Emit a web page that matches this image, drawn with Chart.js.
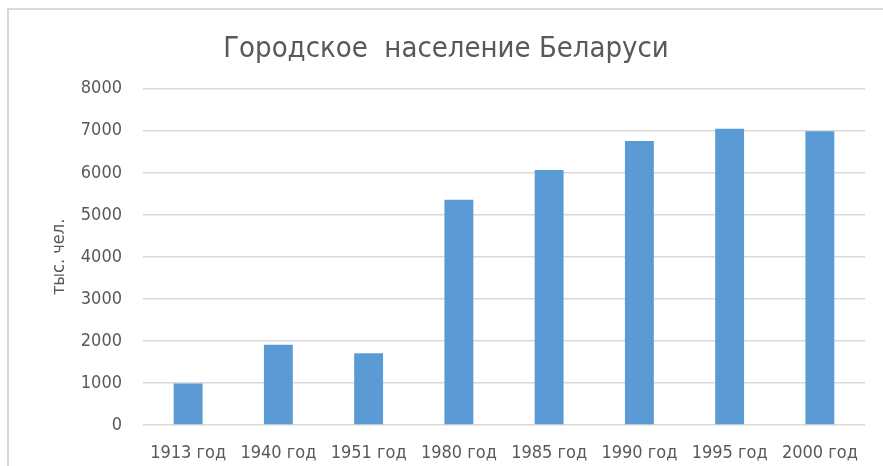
<meta charset="UTF-8">
<html>
<head>
<title>Городское население Беларуси</title>
<script src="https://cdn.jsdelivr.net/npm/chart.js@4/dist/chart.umd.min.js"></script>
<style>
    html, body { margin: 0; padding: 0; width: 883px; height: 466px; overflow: hidden; background: #ffffff; }
    .frame {
        position: absolute;
        left: 7px;
        top: 8px;
        width: 900px;
        height: 480px;
        border-top: 2px solid #d9d9d9;
        border-left: 2px solid #d9d9d9;
    }
    canvas { display: block; }
</style>
<script>
    // data
    var years = ['1913 год', '1940 год', '1951 год', '1980 год', '1985 год', '1990 год', '1995 год', '2000 год'];
    var urbanPop = [990, 1910, 1710, 5360, 6070, 6760, 7050, 6990];
    var yTicks = [0, 1000, 2000, 3000, 4000, 5000, 6000, 7000, 8000];

    var chartTitle = 'Городское  население Беларуси';
    var yTitle = 'тыс. чел.';
</script>
</head>
<body>
<div class="frame">
    <canvas id="chartCanvas" width="874" height="456"></canvas>
</div>
<script>
    var font = '"DejaVu Sans Condensed", "Liberation Sans Narrow", sans-serif';
    var grey = '#595959';

    new Chart(document.getElementById('chartCanvas'), {
        type: 'bar',
        data: {
            labels: years,
            datasets: [{
                data: urbanPop,
                backgroundColor: '#5b9bd5',
                categoryPercentage: 1,
                barPercentage: 0.32
            }]
        },
        options: {
            responsive: false,
            animation: false,
            layout: {
                padding: { left: 0, right: 0, top: 22, bottom: 0 }
            },
            plugins: {
                legend: { display: false },
                tooltip: { enabled: false },
                title: {
                    display: true,
                    text: chartTitle,
                    color: grey,
                    font: { family: font, size: 29, weight: 'normal' },
                    padding: { top: 0, bottom: 22 }
                }
            },
            scales: {
                x: {
                    grid: { display: false, drawTicks: false },
                    border: { display: false },
                    afterFit: function (axis) { axis.height = 41; },
                    ticks: {
                        color: grey,
                        font: { family: font, size: 18 },
                        padding: 18,
                        maxRotation: 0,
                        autoSkip: false
                    }
                },
                y: {
                    min: 0,
                    max: 8000,
                    afterBuildTicks: function (axis) {
                        axis.ticks = yTicks.map(function (v) { return { value: v }; });
                    },
                    afterFit: function (axis) { axis.width = 134; },
                    grid: { color: '#d9d9d9', lineWidth: 1.5, drawTicks: false },
                    border: { display: false },
                    ticks: {
                        color: grey,
                        font: { family: font, size: 18 },
                        padding: 21,
                        callback: function (v) { return String(v); }
                    },
                    title: {
                        display: true,
                        text: yTitle,
                        color: grey,
                        font: { family: font, size: 18 },
                        padding: { top: 40, bottom: 0 }
                    }
                },
                // empty right axis only keeps the right margin
                yRight: {
                    position: 'right',
                    min: 0,
                    max: 8000,
                    afterFit: function (axis) { axis.width = 18; },
                    grid: { display: false, drawTicks: false },
                    border: { display: false },
                    ticks: { display: false }
                }
            }
        }
    });
</script>
</body>
</html>
